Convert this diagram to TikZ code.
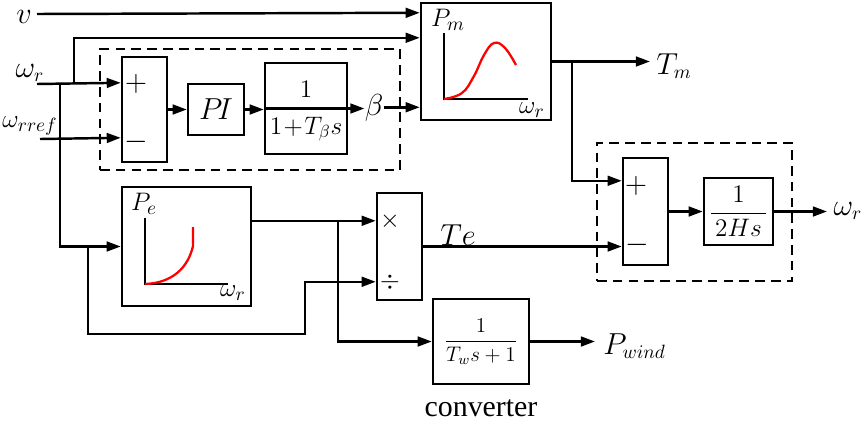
\documentclass[tikz,border=0pt]{standalone}
\usepackage{amsmath}
\usepackage{fontspec}
\setmainfont{Liberation Serif}
\usepackage{tikz}
\usetikzlibrary{arrows.meta, positioning, calc}
\newcommand{\lblsize}{\fontsize{16}{19}\selectfont}
\newcommand{\lagsize}{\fontsize{14.5}{17}\selectfont}
\newcommand{\signsize}{\fontsize{18}{21}\selectfont}
\newcommand{\axsize}{\fontsize{15}{18}\selectfont}
\newcommand{\opsize}{\fontsize{14}{16}\selectfont}
\newcommand{\hssize}{\fontsize{13.5}{16}\selectfont}
\newcommand{\convsize}{\fontsize{11.5}{14}\selectfont}
\tikzset{
  blk/.style 2 args={draw, line width=1.4pt, inner sep=0pt,
                     minimum width=#1*0.02cm, minimum height=#2*0.02cm},
  grp/.style 2 args={draw, line width=1.3pt, dash pattern=on 5.5pt off 3.5pt,
                     minimum width=#1*0.02cm, minimum height=#2*0.02cm},
  sig/.style={-{Triangle[length=8pt, width=5.5pt]}, line width=1.4pt},
  wire/.style={line width=1.4pt},
  axis line/.style={line width=1.4pt},
  curve line/.style={red, line width=1.3pt},
  lbl/.style={inner sep=0pt, font=\lblsize},
  ax lbl/.style={inner sep=0pt, font=\axsize},
}
\begin{document}
\begin{tikzpicture}[x=0.02cm, y=-0.02cm]
  \useasboundingbox (0,0) rectangle (865,423);
  % dashed groups
  \node[grp={300}{121}] (pitch) at (250,109.5) {};
  \node[grp={195}{138}] (swing) at (694.5,212) {};
  % blocks
  \node[blk={130}{117}] (pm) at (486,61.5) {};
  \node[blk={45}{105}] (sum1) at (144.5,109.5) {};
  \node[blk={56}{51}, font=\lblsize] (pi) at (216,109.5) {$P\!I$};
  \node[blk={82}{91}] (lag) at (306,108.5) {};
  \node[blk={129}{119}] (pe) at (186.5,246.5) {};
  \node[blk={45}{107}] (muldiv) at (399.5,246.5) {};
  \node[blk={96}{85}, font=\convsize] (conv) at (481,341.5) {$\dfrac{1}{T_w s+1}$};
  \node[blk={45}{107}] (sum2) at (645.5,211.5) {};
  \node[blk={69}{67}, font=\hssize] (hs) at (738.5,211.5) {$\dfrac{1}{\,2Hs\,}$};
  % block contents
  \draw[wire] (lag.west) -- (lag.east);
  \node[inner sep=0pt, font=\lagsize] (lagnum) at (306,89) {$1$};
  \node[inner sep=0pt, font=\lagsize] (lagden) at (306,129) {$1\!+\!T_\beta s$};
  \node[inner sep=0pt, font=\signsize] (s1p) at (136,84) {$+$};
  \node[inner sep=0pt, font=\signsize] (s1m) at (136,142) {$-$};
  \node[inner sep=0pt, font=\signsize] (s2p) at (636,186) {$+$};
  \node[inner sep=0pt, font=\signsize] (s2m) at (637,245) {$-$};
  \node[inner sep=0pt, font=\opsize] (mul) at (390,221) {$\times$};
  \node[inner sep=0pt, font=\opsize] (dvd) at (390,282) {$\div$};
  \draw[axis line] (444,33) -- (444,99) -- (528,99);
  \draw[curve line] plot[smooth, tension=0.7] coordinates
    {(444,99) (462,93) (474,76) (484,55) (494,43) (505,48) (516,65)};
  \node[ax lbl] (pmlab) at (448,20) {$P_m$};
  \node[ax lbl] (pmw) at (532,110) {$\omega_r$};
  \draw[axis line] (145,218) -- (145,284) -- (228,284);
  \draw[curve line] (145,284) .. controls (172,283) and (188,268) .. (193,246) -- (193,227);
  \node[ax lbl] (pelab) at (144,204) {$P_e$};
  \node[ax lbl] (pew) at (233,293) {$\omega_r$};
  % signal labels
  \node[lbl] (vlab) at (24,17) {$v$};
  \node[lbl] (wrlab) at (30,73) {$\omega_r$};
  \node[inner sep=0pt, font=\axsize] (wreflab) at (30,126) {$\omega_{rref}$};
  \node[lbl] (beta) at (374,108) {$\beta$};
  \node[lbl, anchor=west] (tmlab) at (656,66) {$T_m$};
  \node[lbl] (telab) at (458,235) {$Te$};
  \node[lbl, anchor=west] (pwlab) at (603,346) {$P_{wind}$};
  \node[lbl] (wrout) at (848,211) {$\omega_r$};
  \node[inner sep=0pt, font=\fontsize{17}{20}\selectfont] (convlab) at (481,408) {converter};
  % ports and junctions
  \coordinate (vin) at (37,14);
  \coordinate (wr) at (37,84);
  \coordinate (wref) at (40,139);
  \coordinate (j1) at (60,84);
  \coordinate (j2) at (74,84);
  \coordinate (j3) at (88,246.5);
  \coordinate (j4) at (338,222);
  \coordinate (jt) at (572,61.5);
  \coordinate (dv) at (305,334);
  \coordinate (tmend) at (650,61.5);
  \coordinate (wrend) at (827,211.5);
  \coordinate (pwend) at (595,341.5);
  \coordinate (pm-v) at ($(pm.north west)+(0,11)$);
  \coordinate (pm-w) at ($(pm.north west)+(0,36)$);
  \coordinate (pm-b) at ($(pm.north west)+(0,105.5)$);
  \coordinate (sum1-p) at ($(sum1.north west)+(0,27)$);
  \coordinate (sum1-m) at ($(sum1.north west)+(0,82)$);
  \coordinate (md-m) at ($(muldiv.north west)+(0,29)$);
  \coordinate (md-d) at ($(muldiv.north west)+(0,90)$);
  \coordinate (sum2-p) at ($(sum2.north west)+(0,24)$);
  % connectors
  \draw[sig] (vin) -- (pm-v);
  \draw[sig] (j2) |- (pm-w);
  \draw[sig] (wr) -- (sum1-p);
  \draw[sig] (wref) -- (sum1-m);
  \draw[sig] (sum1.east |- pi.west) -- (pi.west);
  \draw[sig] (pi.east) -- (pi.east -| lag.west);
  \draw[sig] (lag.east) -- (lag.east -| beta.west);
  \draw[sig] (beta.east |- pm-b) -- (pm-b);
  \draw[sig] (j1) |- (pe.west);
  \draw[sig] (j3) |- (dv) |- (md-d);
  \draw[sig] (pe.east |- md-m) -- (md-m);
  \draw[sig] (j4) |- (conv.west);
  \draw[sig] (muldiv.east) -- (muldiv.east -| sum2.west);
  \draw[sig] (pm.east) -- (tmend);
  \draw[sig] (jt) |- (sum2-p);
  \draw[sig] (sum2.east) -- (hs.west);
  \draw[sig] (hs.east) -- (wrend);
  \draw[sig] (conv.east) -- (pwend);
\end{tikzpicture}
\end{document}
